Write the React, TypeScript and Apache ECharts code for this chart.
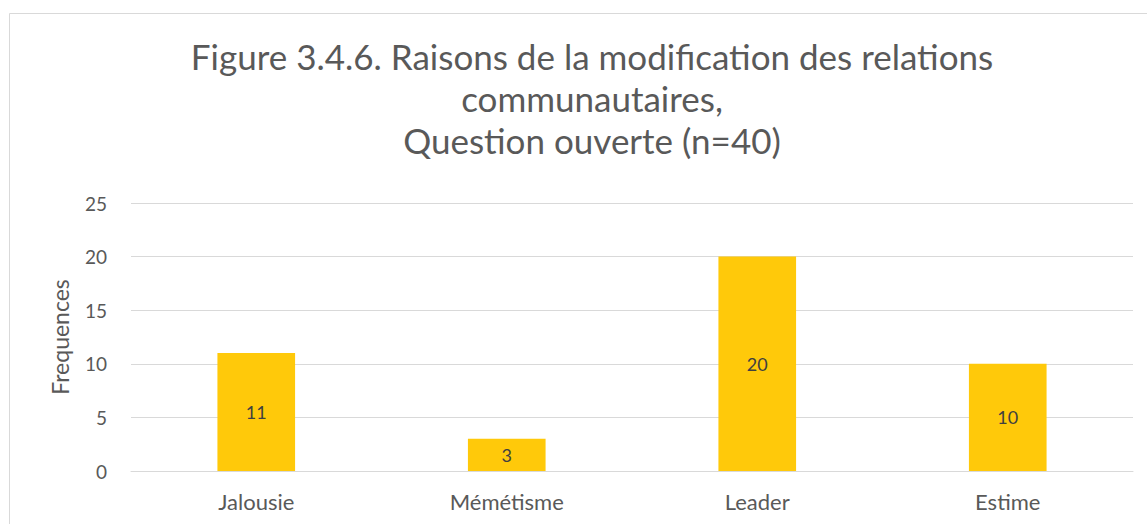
import React, { useEffect, useRef } from "react";
import * as echarts from "echarts";

const categories = ["Jalousie", "Mémétisme", "Leader", "Estime"];
const values = [11, 3, 20, 10];
const titleLines = [
  "Figure 3.4.6. Raisons de la modification des relations",
  "communautaires,",
  "Question ouverte (n=40)",
];
const yAxisName = "Frequences";

export default function App() {
  const ref = useRef<HTMLDivElement>(null);
  useEffect(() => {
    if (!ref.current) return;
    const chart = echarts.init(ref.current, undefined, { renderer: "svg" });
    const font = "Lato, 'Open Sans', sans-serif";
    chart.setOption({
      animation: false,
      backgroundColor: "#ffffff",
      title: {
        text: titleLines.join("\n"),
        left: 587,
        top: 30,
        textAlign: "center",
        textStyle: {
          fontFamily: font,
          fontSize: 35,
          fontWeight: "normal",
          color: "#595959",
          lineHeight: 42,
        },
      },
      graphic: [
        {
          type: "rect",
          shape: { x: 9.5, y: 13.5, width: 1200, height: 600 },
          style: { fill: "none", stroke: "#d9d9d9", lineWidth: 1 },
          silent: true,
        },
      ],
      grid: { left: 131, right: 14, top: 203, bottom: 53 },
      xAxis: {
        type: "category",
        data: categories,
        axisTick: { show: false },
        axisLine: { lineStyle: { color: "#d9d9d9", width: 1 } },
        axisLabel: { color: "#595959", fontSize: 22, fontFamily: font, margin: 19 },
      },
      yAxis: {
        type: "value",
        min: 0,
        max: 25,
        interval: 5,
        name: yAxisName,
        nameLocation: "middle",
        nameGap: 60,
        nameRotate: 90,
        nameTextStyle: { color: "#595959", fontSize: 23, fontFamily: font },
        axisLine: { show: false },
        axisTick: { show: false },
        axisLabel: { color: "#595959", fontSize: 19, fontFamily: font, margin: 24 },
        splitLine: { lineStyle: { color: "#d9d9d9", width: 1 } },
      },
      series: [
        {
          type: "bar",
          data: values,
          barWidth: "31%",
          itemStyle: { color: "#FFC90A" },
          label: {
            show: true,
            position: "inside",
            color: "#404040",
            fontSize: 18,
            fontFamily: font,
          },
        },
      ],
    });
    return () => chart.dispose();
  }, []);
  return (
    <div
      ref={ref}
      style={{ position: "absolute", left: 0, top: 0, width: 1147, height: 524 }}
    />
  );
}
